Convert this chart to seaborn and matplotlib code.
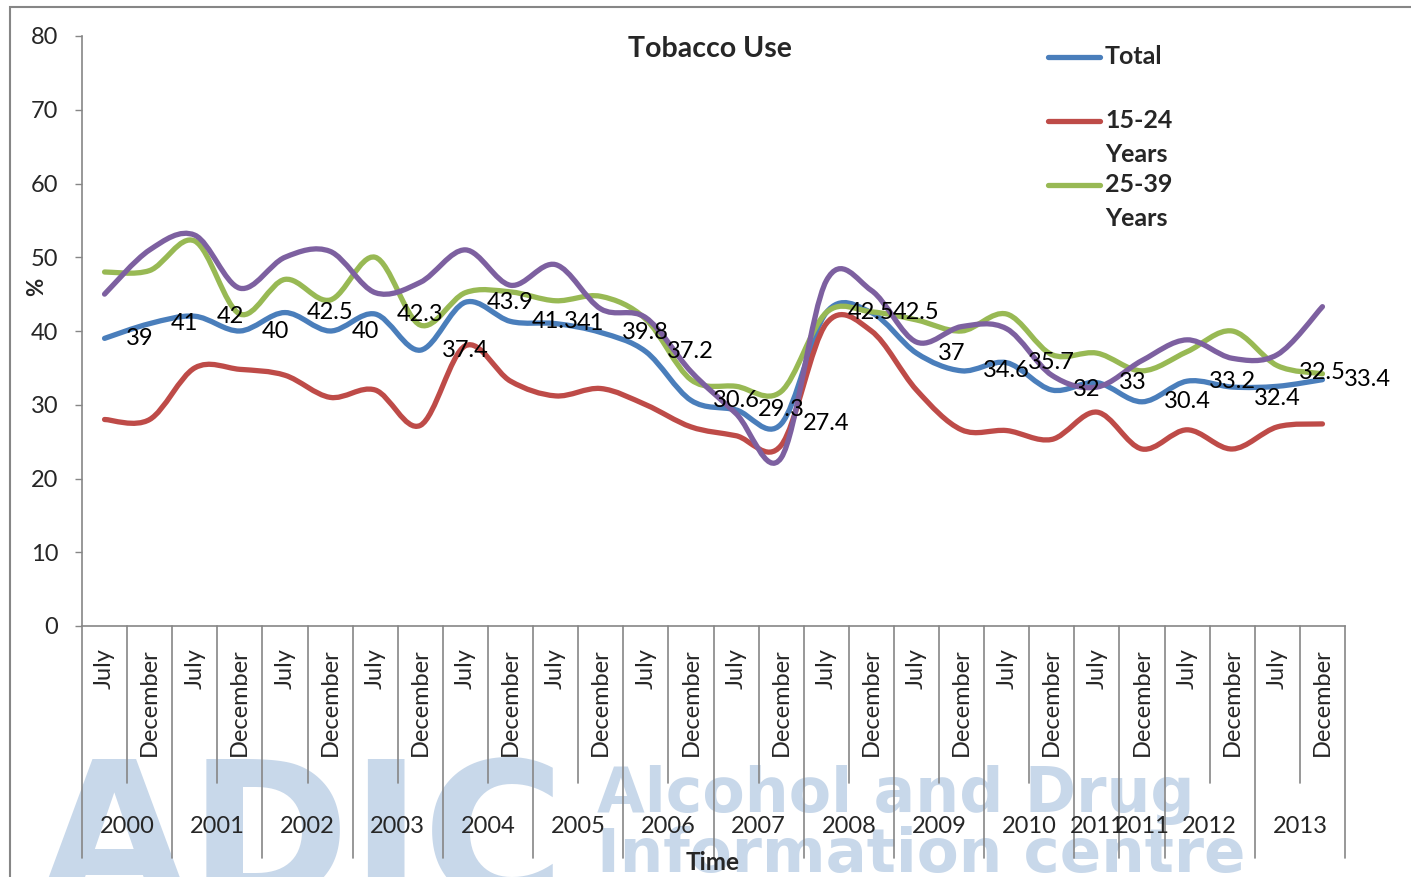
"""Tobacco use over time, Excel-style smoothed lines."""
import matplotlib
matplotlib.use("Agg")
import matplotlib.pyplot as plt
import matplotlib.transforms as mtransforms
from matplotlib.path import Path
from matplotlib.patches import PathPatch, Rectangle
import numpy as np
import pandas as pd
import seaborn as sns

# ---- data ---------------------------------------------------------------
months = ["July", "December"] * 14
year_labels = ["2000", "2001", "2002", "2003", "2004", "2005", "2006", "2007",
               "2008", "2009", "2010", "2011", "2011", "2012", "2013"]
year_spans = [2, 2, 2, 2, 2, 2, 2, 2, 2, 2, 2, 1, 1, 2, 2]

total = [39, 41, 42, 40, 42.5, 40, 42.3, 37.4, 43.9, 41.3, 41, 39.8, 37.2, 30.6,
         29.3, 27.4, 42.5, 42.5, 37, 34.6, 35.7, 32, 33, 30.4, 33.2, 32.4, 32.5, 33.4]
age_15_24 = [28, 28, 35, 34.8, 34, 31, 32, 27.2, 38, 33.2, 31.2, 32.2, 30, 27,
             25.8, 24.5, 41, 40, 32, 26.6, 26.5, 25.3, 29, 24, 26.6, 24, 27, 27.4]
age_25_39 = [48, 48.2, 52.2, 42.3, 47, 44.2, 50, 40.8, 45.2, 45.3, 44.1, 44.7, 41.6, 33.4,
             32.5, 31.8, 42.5, 42.6, 41.5, 40, 42.3, 36.8, 37, 34.6, 37.2, 40, 35.3, 34.2]
age_40_plus = [45, 51, 53, 45.8, 50, 50.8, 45.2, 46.6, 51, 46.2, 49, 43, 41.8, 34.5,
               28.8, 22.8, 46.8, 45.5, 38.5, 40.6, 40.3, 34, 32.4, 36, 38.8, 36.3, 36.8, 43.3]

series_names = ["Total", "15-24 Years", "25-39 Years", "40+ Years"]
series_colors = ["#4a7ebb", "#be4b48", "#98b954", "#7d60a0"]

# a few labels were dragged off their points in the original (pixels, up = +)
label_nudge = {25: -11, 26: 14}

FONT = ["Lato", "DejaVu Sans"]
GRAY = "#868686"
FS = 17


def smooth_path(x, y):
    """Bezier path through the points, like Excel's smoothed line."""
    verts = [(x[0], y[0])]
    codes = [Path.MOVETO]
    n = len(x)
    for i in range(n - 1):
        xa, ya = (x[i - 1], y[i - 1]) if i > 0 else (x[i], y[i])
        xd, yd = (x[i + 2], y[i + 2]) if i + 2 < n else (x[i + 1], y[i + 1])
        c1 = (x[i] + (x[i + 1] - xa) / 6, y[i] + (y[i + 1] - ya) / 6)
        c2 = (x[i + 1] - (xd - x[i]) / 6, y[i + 1] - (yd - y[i]) / 6)
        verts += [c1, c2, (x[i + 1], y[i + 1])]
        codes += [Path.CURVE4] * 3
    return Path(verts, codes)


sns.set_style("white")
plt.rcParams["font.family"] = FONT

n = len(months)
idx = np.arange(n)
df = pd.DataFrame({
    "idx": np.tile(idx, 4),
    "value": total + age_15_24 + age_25_39 + age_40_plus,
    "series": np.repeat(series_names, n),
})

W, H = 1411, 877
fig = plt.figure(figsize=(W / 100, H / 100), dpi=100)
ax = fig.add_axes([82 / W, 251 / H, 1263 / W, 590 / H])
ax.patch.set_alpha(0)

sns.lineplot(data=df, x="idx", y="value", hue="series", hue_order=series_names,
             palette=series_colors, linewidth=3.6, legend=False, ax=ax)

# swap the straight segments for smoothed curves
for line in list(ax.lines):
    xd, yd = line.get_data()
    patch = PathPatch(smooth_path(np.asarray(xd, float), np.asarray(yd, float)),
                      facecolor="none", edgecolor=line.get_color(), lw=3.8,
                      capstyle="round", joinstyle="round")
    ax.add_patch(patch)
    line.remove()

# data labels on Total
for i, v in enumerate(total):
    dy = label_nudge.get(i, 0) * 0.72
    ax.annotate(f"{v:g}", (i, v), xytext=(15.5, dy), textcoords="offset points",
                ha="left", va="center", fontsize=FS, color="black", zorder=5)

ax.set_xlim(-0.5, n - 0.5)
ax.set_ylim(0, 80)
ax.set_yticks(range(0, 81, 10))
ax.tick_params(axis="y", left=True, length=5, width=1, color=GRAY, pad=12,
               labelsize=FS)
ax.set_xticks([])
ax.set_xlabel("")
ax.set_ylabel("")
for side in ["top", "right"]:
    ax.spines[side].set_visible(False)
for side in ["left", "bottom"]:
    ax.spines[side].set_color(GRAY)
    ax.spines[side].set_linewidth(1.2)

# category axis: month labels, year groups, divider lines
trans = mtransforms.blended_transform_factory(ax.transData, ax.transAxes)
for i, m in enumerate(months):
    ax.text(i, -0.037, m, transform=trans, rotation=90, ha="center", va="top",
            fontsize=FS)

bounds = np.cumsum([0] + year_spans)
start = 0
for lab, span in zip(year_labels, year_spans):
    ax.text(start + (span - 1) / 2, -0.339, lab, transform=trans, ha="center",
            va="center", fontsize=FS)
    start += span
for k in range(n + 1):
    bottom = -0.393 if k in bounds else -0.266
    ax.plot([k - 0.5, k - 0.5], [0, bottom], transform=trans, color=GRAY,
            lw=1.2, clip_on=False)

ax.text(0.4996, -0.40, "Time", transform=ax.transAxes, ha="center", va="center",
        fontsize=17.5, fontweight="bold")
fig.text(37 / W, 1 - 287 / H, "%", rotation=90, ha="center", va="center",
         fontsize=16, fontweight="bold")
ax.text(0.497, 0.978, "Tobacco Use", transform=ax.transAxes, ha="center",
        va="center", fontsize=20.5, fontweight="bold")

# legend (Excel puts the swatch on the first text line)
legend_rows = [("Total", None, 57), ("15-24", "Years", 121), ("25-39", "Years", 185)]
for (first, second, py), color in zip(legend_rows, series_colors):
    yy = 1 - py / H
    fig.add_artist(plt.Line2D([1048 / W, 1100 / W], [yy, yy], color=color,
                              lw=3.8, solid_capstyle="round"))
    fig.text(1105 / W, yy, first, ha="left", va="center", fontsize=18,
             fontweight="bold")
    if second:
        fig.text(1105 / W, 1 - (py + 33) / H, second, ha="left", va="center",
                 fontsize=18, fontweight="bold")

# watermark
wm = "#c8d8ea"
fig.text(38 / W, -24 / H, "ADIC", ha="left", va="baseline", fontsize=140,
         fontweight="bold", color=wm, family="DejaVu Sans", zorder=-1)
fig.text(597 / W, 1 - 812 / H, "Alcohol and Drug", ha="left", va="baseline",
         fontsize=44.5, fontweight="bold", color=wm, family="DejaVu Sans", zorder=-1)
fig.text(597 / W, 1 - 872 / H, "Information centre", ha="left", va="baseline",
         fontsize=44, fontweight="bold", color=wm, family="DejaVu Sans", zorder=-1)

# outer chart frame
fig.add_artist(Rectangle((10 / W, -0.05), 1.2, 1 - 7 / H + 0.05,
                         transform=fig.transFigure, fill=False, ec=GRAY, lw=1.5))

fig.savefig("out.png", dpi=100)
